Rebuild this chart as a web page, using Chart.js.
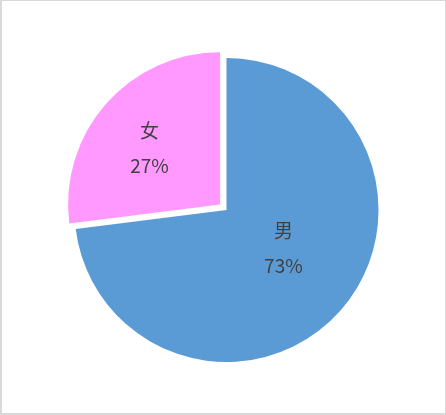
<!DOCTYPE html>
<html>
<head>
<meta charset="utf-8">
<script src="https://cdn.jsdelivr.net/npm/chart.js@4"></script>
<style>
  html, body { margin: 0; padding: 0; background: #fff; }
  #frame {
    position: relative;
    width: 446px;
    height: 415px;
    box-sizing: border-box;
    border: 1px solid #d9d9d9;
    border-left-width: 2px;
    border-bottom-width: 2px;
  }
  #chart { display: block; }
</style>
</head>
<body>
<div id="frame">
  <canvas id="chart"></canvas>
</div>
<script>
const categories = ["男", "女"];
const shares = [73, 27];
const sliceColors = ["#5b9bd5", "#ff99ff"];
// chart.js moves an arc by offset/4, so 34 -> roughly 8.5px
const sliceOffsets = [0, 34];

const labelFont = '19px "Noto Sans CJK SC", "Noto Sans", sans-serif';

// draws "name / percent" inside each slice, placed along the slice mid-angle
const sliceLabels = {
  id: "sliceLabels",
  afterDatasetsDraw(chart, args, opts) {
    const { ctx } = chart;
    const meta = chart.getDatasetMeta(0);
    const data = chart.data.datasets[0].data;
    const total = data.reduce((sum, v) => sum + v, 0);
    ctx.save();
    ctx.font = labelFont;
    ctx.fillStyle = "#404040";
    ctx.textAlign = "center";
    ctx.textBaseline = "middle";
    meta.data.forEach((arc, i) => {
      const p = arc.getProps(["x", "y", "startAngle", "endAngle", "outerRadius"], true);
      const mid = (p.startAngle + p.endAngle) / 2 + opts.angleShift[i];
      const r = p.outerRadius * opts.ratio[i];
      const cx = p.x + Math.cos(mid) * r;
      const cy = p.y + Math.sin(mid) * r;
      const pct = Math.round(data[i] / total * 100) + "%";
      ctx.fillText(chart.data.labels[i], cx, cy - 17.5);
      ctx.fillText(pct, cx, cy + 17.5);
    });
    ctx.restore();
  }
};

const canvas = document.getElementById("chart");
canvas.width = 443;
canvas.height = 412;

new Chart(canvas, {
  type: "pie",
  data: {
    labels: categories,
    datasets: [{
      data: shares,
      backgroundColor: sliceColors,
      offset: sliceOffsets,
      borderWidth: 0,
      hoverOffset: 0
    }]
  },
  options: {
    responsive: false,
    animation: false,
    radius: 152,
    layout: { padding: { left: 6, right: 0, top: 6, bottom: 0 } },
    plugins: {
      legend: { display: false },
      tooltip: { enabled: false },
      sliceLabels: { ratio: [0.45, 0.65], angleShift: [-0.134, -0.045] }
    }
  },
  plugins: [sliceLabels]
});
</script>
</body>
</html>
